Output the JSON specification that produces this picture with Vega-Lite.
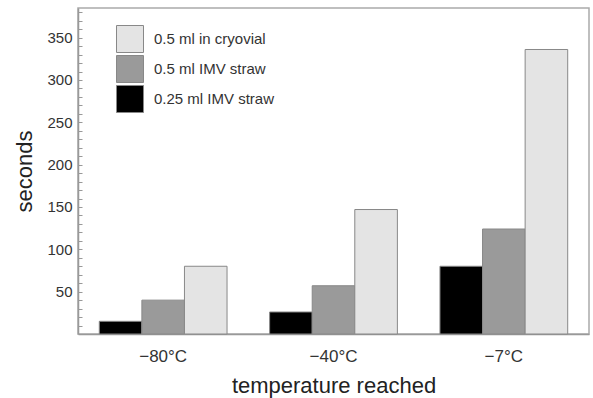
{
  "$schema": "https://vega.github.io/schema/vega-lite/v6.json",
  "width": 511,
  "height": 326,
  "autosize": "none",
  "padding": {"left": 78, "top": 8, "right": 4, "bottom": 64},
  "background": "white",
  "config": {
    "font": "Liberation Sans",
    "view": {"stroke": "#aaaaaa", "strokeWidth": 1.5},
    "axis": {"domainColor": "#999999", "domainWidth": 1.5, "grid": false, "labelColor": "#333333", "titleColor": "#222222", "titleFontWeight": "normal"}
  },
  "data": {
    "values": [
      {"temp": "−80°C", "sample": "0.25 ml IMV straw", "seconds": 15},
      {"temp": "−80°C", "sample": "0.5 ml IMV straw", "seconds": 40},
      {"temp": "−80°C", "sample": "0.5 ml in cryovial", "seconds": 80},
      {"temp": "−40°C", "sample": "0.25 ml IMV straw", "seconds": 26},
      {"temp": "−40°C", "sample": "0.5 ml IMV straw", "seconds": 57},
      {"temp": "−40°C", "sample": "0.5 ml in cryovial", "seconds": 147},
      {"temp": "−7°C", "sample": "0.25 ml IMV straw", "seconds": 80},
      {"temp": "−7°C", "sample": "0.5 ml IMV straw", "seconds": 124},
      {"temp": "−7°C", "sample": "0.5 ml in cryovial", "seconds": 336}
    ]
  },
  "mark": {"type": "bar", "stroke": "#888888", "strokeWidth": 1},
  "encoding": {
    "x": {
      "field": "temp",
      "type": "nominal",
      "sort": ["−80°C", "−40°C", "−7°C"],
      "scale": {"paddingInner": 0.25, "paddingOuter": 0.125},
      "axis": {"title": "temperature reached", "titleFontSize": 22, "titlePadding": 11, "labelAngle": 0, "labelFontSize": 17, "labelPadding": 14, "ticks": false}
    },
    "xOffset": {
      "field": "sample",
      "type": "nominal",
      "sort": ["0.25 ml IMV straw", "0.5 ml IMV straw", "0.5 ml in cryovial"],
      "scale": {"paddingInner": 0, "paddingOuter": 0}
    },
    "y": {
      "field": "seconds",
      "type": "quantitative",
      "scale": {"domain": [0, 385], "nice": false},
      "axis": {
        "title": "seconds",
        "titleFontSize": 22,
        "titlePadding": 10,
        "labelFontSize": 15,
        "values": [10, 20, 30, 40, 50, 60, 70, 80, 90, 100, 110, 120, 130, 140, 150, 160, 170, 180, 190, 200, 210, 220, 230, 240, 250, 260, 270, 280, 290, 300, 310, 320, 330, 340, 350, 360, 370, 380],
        "labelExpr": "datum.value % 50 == 0 ? datum.label : ''",
        "tickSize": -4,
        "tickColor": "#999999",
        "labelPadding": 10
      }
    },
    "color": {
      "field": "sample",
      "type": "nominal",
      "scale": {
        "domain": ["0.5 ml in cryovial", "0.5 ml IMV straw", "0.25 ml IMV straw"],
        "range": ["#e4e4e4", "#9a9a9a", "#000000"]
      },
      "legend": {
        "title": null,
        "orient": "none",
        "legendX": 38,
        "legendY": 17,
        "symbolType": "square",
        "symbolSize": 729,
        "symbolStrokeColor": "#888888",
        "symbolStrokeWidth": 1,
        "rowPadding": -5,
        "labelFontSize": 15,
        "labelColor": "#333333",
        "labelOffset": 10,
        "padding": 0
      }
    }
  }
}
